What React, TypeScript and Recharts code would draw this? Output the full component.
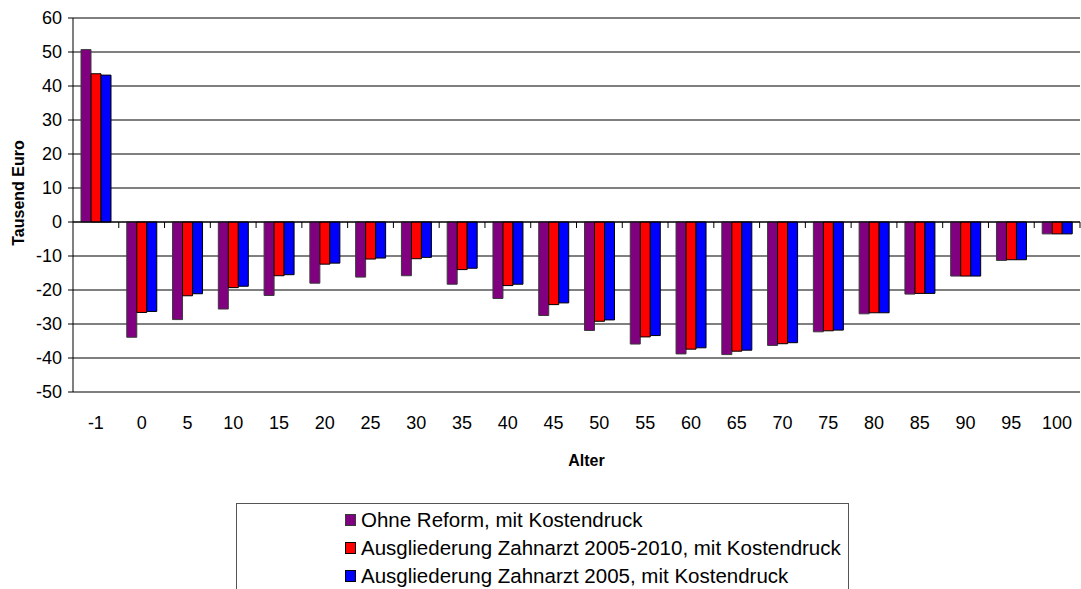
import React from 'react';
import {
  BarChart,
  Bar,
  XAxis,
  YAxis,
  CartesianGrid,
  ReferenceLine,
  Legend,
} from 'recharts';

// Age groups on the category axis
const ages = ['-1', '0', '5', '10', '15', '20', '25', '30', '35', '40', '45', '50', '55', '60', '65', '70', '75', '80', '85', '90', '95', '100'];

// Generational balance per age group, thousand euro
const ohneReform = [50.7, -33.9, -28.7, -25.6, -21.6, -18.0, -16.2, -15.8, -18.3, -22.5, -27.5, -31.9, -35.9, -38.8, -39.0, -36.3, -32.3, -27.0, -21.2, -15.9, -11.3, -3.5];
const zahnarzt20052010 = [43.6, -26.6, -21.7, -19.3, -15.8, -12.4, -10.9, -10.8, -14.0, -18.7, -24.3, -29.2, -33.8, -37.4, -38.0, -35.8, -32.0, -26.7, -21.0, -15.9, -11.1, -3.5];
const zahnarzt2005 = [43.2, -26.3, -21.1, -18.9, -15.5, -12.1, -10.6, -10.4, -13.6, -18.3, -23.8, -28.8, -33.4, -37.0, -37.7, -35.5, -31.8, -26.7, -21.0, -15.9, -11.1, -3.5];

const yTicks = [-50, -40, -30, -20, -10, 0, 10, 20, 30, 40, 50, 60];

const seriesNames = [
  'Ohne Reform, mit Kostendruck',
  'Ausgliederung Zahnarzt 2005-2010, mit Kostendruck',
  'Ausgliederung Zahnarzt 2005, mit Kostendruck',
];
const seriesColors = ['#800080', '#FF0000', '#0000FF'];
const seriesStrokes = ['#3a3a3a', '#000000', '#000000'];

const data = ages.map((age, i) => ({
  age,
  ohne: ohneReform[i],
  z0510: zahnarzt20052010[i],
  z05: zahnarzt2005[i],
}));

const FONT = "Arial, 'Liberation Sans', sans-serif";

// Zero line of the category axis, with tick marks between the categories
const ZeroAxis = (props: any) => {
  const { x1, y1, x2 } = props;
  const n = ages.length;
  const step = (x2 - x1) / n;
  const ticks = [];
  for (let i = 1; i <= n; i++) {
    const x = x1 + step * i;
    ticks.push(<line key={i} x1={x} y1={y1} x2={x} y2={y1 + 6} stroke="#000" strokeWidth={1} />);
  }
  return (
    <g>
      <line x1={x1} y1={y1} x2={x2} y2={y1} stroke="#000" strokeWidth={1} />
      {ticks}
    </g>
  );
};

const LegendBox = () => (
  <div style={{ position: 'relative', width: '100%', height: '100%', fontFamily: FONT }}>
    {seriesNames.map((name, i) => (
      <div
        key={name}
        style={{
          position: 'absolute',
          left: 108,
          top: 4 + i * 28,
          height: 24,
          lineHeight: '24px',
          display: 'flex',
          alignItems: 'center',
          whiteSpace: 'nowrap',
          fontSize: 20.5,
          color: '#000',
        }}
      >
        <span
          style={{
            display: 'inline-block',
            width: 9,
            height: 10,
            background: seriesColors[i],
            border: `1px solid ${seriesStrokes[i]}`,
            marginRight: 5,
          }}
        />
        <span>{name}</span>
      </div>
    ))}
  </div>
);

export default function App() {
  return (
    <div style={{ position: 'absolute', left: 0, top: 0, width: 1081, height: 589, background: '#fff', overflow: 'hidden' }}>
      <BarChart
        width={1081}
        height={589}
        data={data}
        margin={{ top: 18, right: 1, bottom: 117, left: 0 }}
        barSize={10}
        barGap={0}
      >
        <CartesianGrid vertical={false} stroke="#000" strokeWidth={1} />
        <XAxis
          dataKey="age"
          axisLine={false}
          tickLine={false}
          tickSize={0}
          tickMargin={24}
          height={80}
          interval={0}
          tick={{ fill: '#000', fontSize: 18, fontFamily: FONT }}
          label={({ viewBox }: any) => (
            <text
              x={viewBox.x + viewBox.width / 2 + 10}
              y={viewBox.y + 74}
              textAnchor="middle"
              fontFamily={FONT}
              fontSize={16}
              fontWeight="bold"
              fill="#000"
            >
              Alter
            </text>
          )}
        />
        <YAxis
          width={73}
          domain={[-50, 60]}
          ticks={yTicks}
          interval={0}
          axisLine={{ stroke: '#000' }}
          tickLine={{ stroke: '#000' }}
          tickSize={5}
          tickMargin={6}
          tick={{ fill: '#000', fontSize: 18, fontFamily: FONT }}
          label={({ viewBox }: any) => (
            <text
              x={24}
              y={viewBox.y + viewBox.height / 2 - 12}
              transform={`rotate(-90, 24, ${viewBox.y + viewBox.height / 2 - 12})`}
              textAnchor="middle"
              fontFamily={FONT}
              fontSize={16}
              fontWeight="bold"
              fill="#000"
            >
              Tausend Euro
            </text>
          )}
        />
        <ReferenceLine y={0} shape={ZeroAxis} />
        <Legend
          layout="vertical"
          align="center"
          verticalAlign="middle"
          content={() => <LegendBox />}
          wrapperStyle={{
            position: 'absolute',
            left: 236,
            top: 503,
            width: 613,
            height: 100,
            border: '1px solid #555',
            boxSizing: 'border-box',
            background: '#fff',
          }}
        />
        <Bar dataKey="ohne" name={seriesNames[0]} fill={seriesColors[0]} stroke={seriesStrokes[0]} strokeWidth={1} isAnimationActive={false} />
        <Bar dataKey="z0510" name={seriesNames[1]} fill={seriesColors[1]} stroke={seriesStrokes[1]} strokeWidth={1} isAnimationActive={false} />
        <Bar dataKey="z05" name={seriesNames[2]} fill={seriesColors[2]} stroke={seriesStrokes[2]} strokeWidth={1} isAnimationActive={false} />
      </BarChart>
    </div>
  );
}
